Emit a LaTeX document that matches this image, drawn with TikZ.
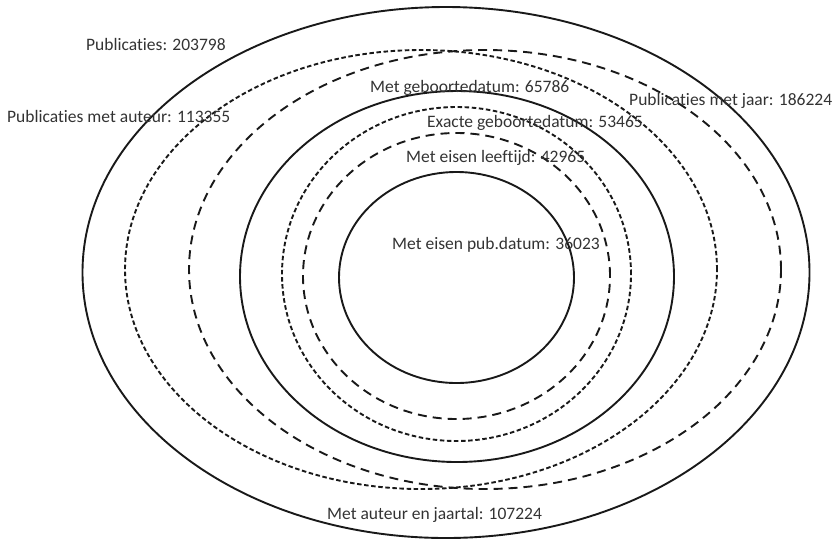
\documentclass[tikz,border=0pt]{standalone}
\usepackage{fontspec}
\setmainfont{Carlito}[Ligatures=NoCommon]
\usetikzlibrary{shapes.geometric}

\tikzset{
  setline/.style={ellipse, draw=black!90, line width=1.9pt, inner sep=0pt, outer sep=0pt},
  finedash/.style={dash pattern=on 4.5pt off 2.6pt},
  widedash/.style={dash pattern=on 9pt off 6pt},
  countlabel/.style={anchor=base west, inner sep=0pt, text=black!80, font=\fontsize{17.5}{20}\selectfont}
}

\begin{document}
\begin{tikzpicture}[x=1pt, y=-1pt]
  \useasboundingbox (0,0) rectangle (834,542);

  % sets
  \node [setline, minimum width=727pt, minimum height=531pt] (publicaties) at (446,272.5) {};
  \node [setline, finedash, minimum width=592pt, minimum height=439pt] (auteur) at (421,269.5) {};
  \node [setline, widedash, minimum width=592pt, minimum height=439pt] (jaar) at (485,269.5) {};
  \node [setline, minimum width=434pt, minimum height=371pt] (geboorte) at (457,276.5) {};
  \node [setline, finedash, minimum width=349pt, minimum height=334pt] (exact) at (456.5,274) {};
  \node [setline, widedash, minimum width=307pt, minimum height=286pt] (leeftijd) at (456.5,276) {};
  \node [setline, minimum width=235pt, minimum height=211pt] (pubdatum) at (456.5,277.5) {};

  % counts
  \node [countlabel] (publicatiesText) at (86,50) {Publicaties: 203798};
  \node [countlabel] (auteurText) at (7,122.5) {Publicaties met auteur: 113355};
  \node [countlabel] (geboorteText) at (370,92.3) {Met geboortedatum: 65786};
  \node [countlabel] (jaarText) at (629,105) {Publicaties met jaar: 186224};
  \node [countlabel] (exactText) at (427,127.7) {Exacte geboortedatum: 53465};
  \node [countlabel] (leeftijdText) at (406,162.7) {Met eisen leeftijd: 42965};
  \node [countlabel] (pubdatumText) at (392,249.5) {Met eisen pub.datum: 36023};
  \node [countlabel] (beideText) at (327,519) {Met auteur en jaartal: 107224};
\end{tikzpicture}
\end{document}
